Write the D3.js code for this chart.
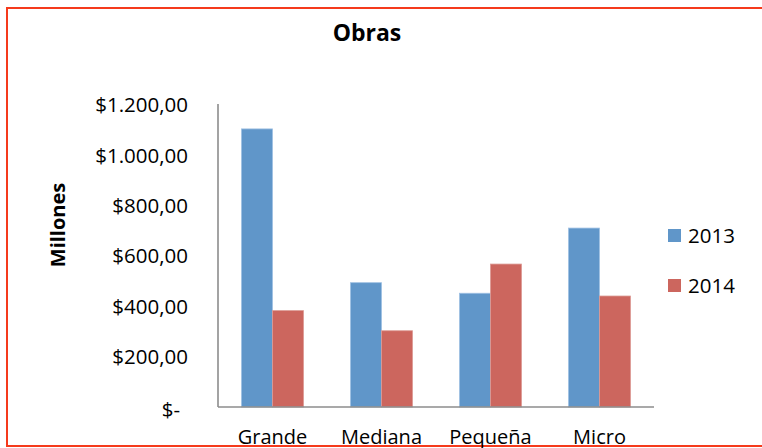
<!DOCTYPE html>
<html>
<head>
<meta charset="utf-8">
<script src="https://cdn.jsdelivr.net/npm/d3@7"></script>
<style>
  html, body { margin: 0; padding: 0; background: #fff; }
  svg { display: block; }
  text { font-family: "Open Sans", "Liberation Sans", sans-serif; fill: #000; }
</style>
</head>
<body>
<svg id="chart" width="762" height="448"></svg>
<script>
// Obras: inversión por tamaño de obra, en millones
const categories = ["Grande", "Mediana", "Pequeña", "Micro"];
const seriesNames = ["2013", "2014"];
const values2013 = [1105, 494, 452, 711];
const values2014 = [383, 303, 568, 441];
const yTicks = [0, 200, 400, 600, 800, 1000, 1200];
const colors = ["#6096c9", "#cc665e"];

const svg = d3.select("#chart");
const W = 762, H = 448;
const plot = { left: 218, right: 654, top: 105, bottom: 407 };

// chart frame (right edge runs off the canvas)
svg.append("rect")
  .attr("x", 7).attr("y", 8)
  .attr("width", W + 10).attr("height", 438)
  .attr("fill", "none")
  .attr("stroke", "#f53a1c")
  .attr("stroke-width", 2);

const locale = d3.formatLocale({ decimal: ",", thousands: ".", grouping: [3], currency: ["$", ""] });
const money = locale.format("$,.2f");

const x0 = d3.scaleBand().domain(categories)
  .range([plot.left, plot.right])
  .paddingInner(0.431).paddingOuter(0.2155);
const x1 = d3.scaleBand().domain(seriesNames).range([0, x0.bandwidth()]);
const y = d3.scaleLinear().domain([0, 1200]).range([plot.bottom, plot.top]);

const seriesData = [values2013, values2014];

// bars
categories.forEach((c, i) => {
  const g = svg.append("g").attr("transform", `translate(${x0(c)},0)`);
  g.selectAll("rect")
    .data(seriesNames.map((s, k) => ({ s, v: seriesData[k][i], k })))
    .join("rect")
    .attr("x", d => x1(d.s))
    .attr("y", d => y(d.v))
    .attr("width", x1.bandwidth())
    .attr("height", d => y(0) - y(d.v))
    .attr("fill", d => colors[d.k])
    .attr("stroke", d => d.k === 0 ? "#9fc0e3" : "#dc9a94")
    .attr("stroke-width", 0.8);
});

// y axis
const yAxis = svg.append("g")
  .attr("transform", `translate(${plot.left},0)`)
  .call(d3.axisLeft(y).tickValues(yTicks).tickSize(0).tickPadding(30)
    .tickFormat(d => d === 0 ? "$-" : money(d)));
yAxis.select(".domain").attr("stroke", "#8c8c8c").attr("stroke-width", 1.6)
  .attr("d", `M0,${plot.top - 1}V${plot.bottom}`);
yAxis.selectAll("text")
  .attr("font-size", 20.5)
  .attr("font-family", "Open Sans, sans-serif")
  .attr("dy", "0.34em");
yAxis.selectAll(".tick").filter(d => d === 0).select("text")
  .attr("dy", "0.48em").attr("x", -38);

// x axis
const xAxis = svg.append("g")
  .attr("transform", `translate(0,${plot.bottom})`)
  .call(d3.axisBottom(x0).tickSize(0).tickPadding(23));
xAxis.select(".domain").attr("stroke", "#8c8c8c").attr("stroke-width", 1.6)
  .attr("d", `M${plot.left},0H${plot.right}`);
xAxis.selectAll("text").attr("font-size", 20).attr("dy", "0.71em");

// title
svg.append("text")
  .attr("x", 367).attr("y", 41)
  .attr("text-anchor", "middle")
  .attr("font-size", 23).attr("font-weight", "bold")
  .text("Obras");

// y axis title
svg.append("text")
  .attr("transform", "translate(65,225) rotate(-90)")
  .attr("text-anchor", "middle")
  .attr("font-size", 20).attr("font-weight", "bold")
  .text("Millones");

// legend
const legend = svg.append("g");
seriesNames.forEach((s, k) => {
  const ly = 229 + k * 50;
  legend.append("rect")
    .attr("x", 668).attr("y", ly)
    .attr("width", 13).attr("height", 13)
    .attr("fill", colors[k]);
  legend.append("text")
    .attr("x", 688).attr("y", ly + 6.5)
    .attr("dy", "0.36em")
    .attr("font-size", 20.5)
    .text(s);
});
</script>
</body>
</html>
